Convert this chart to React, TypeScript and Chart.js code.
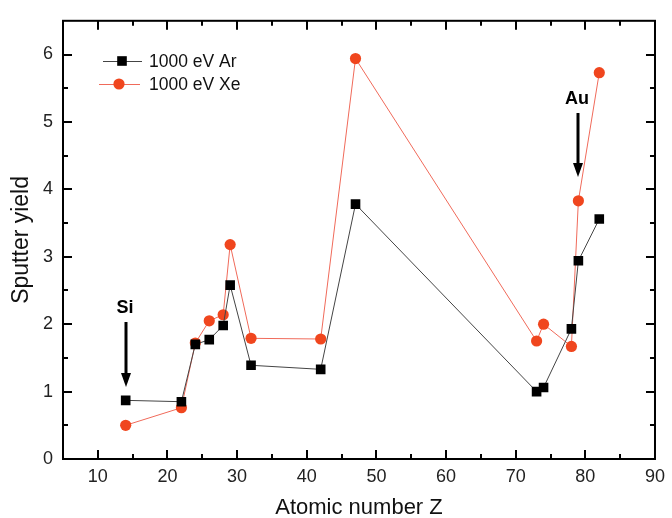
import React, { useEffect, useRef } from "react";
import { Chart, registerables } from "chart.js";

Chart.register(...registerables);

const atomicNumbers = [14, 22, 24, 26, 28, 29, 32, 42, 47, 73, 74, 78, 79, 82];
const arYield = [0.87, 0.85, 1.7, 1.77, 1.98, 2.58, 1.39, 1.33, 3.78, 1.0, 1.06, 1.93, 2.94, 3.56];
const xeYield = [0.5, 0.76, 1.72, 2.05, 2.14, 3.18, 1.79, 1.78, 5.94, 1.75, 2.0, 1.67, 3.83, 5.73];
const seriesLabels = ["1000 eV Ar", "1000 eV Xe"];
const xTitle = "Atomic number Z";
const yTitle = "Sputter yield";
const annotations = [
  { label: "Si", z: 14 },
  { label: "Au", z: 79 },
];

const FONT = "'Liberation Sans', Arial, sans-serif";
const RED = "#f0461e";
const RED_LINE = "#f06a5a";
const BLACK = "#000000";

const framePlugin = {
  id: "framePlugin",
  afterDraw(chart: any) {
    const ctx = chart.ctx;
    const { left, right, top, bottom } = chart.chartArea;
    const xs = chart.scales.x;
    const ys = chart.scales.y;
    ctx.save();
    ctx.strokeStyle = "#000";
    ctx.lineWidth = 2;
    ctx.strokeRect(left, top, right - left, bottom - top);
    const major = 9;
    const minor = 5;
    ctx.lineWidth = 2;
    ctx.beginPath();
    for (let v = xs.min; v <= xs.max + 1e-9; v += 5) {
      if (v === xs.min || v === xs.max) continue;
      const px = Math.round(xs.getPixelForValue(v));
      const len = v % 10 === 0 ? major : minor;
      ctx.moveTo(px, bottom);
      ctx.lineTo(px, bottom - len);
      ctx.moveTo(px, top);
      ctx.lineTo(px, top + len);
    }
    for (let v = ys.min; v <= ys.max + 1e-9; v += 0.5) {
      if (v === ys.min || v === ys.max) continue;
      const py = Math.round(ys.getPixelForValue(v));
      const len = Math.abs(v % 1) < 1e-9 ? major : minor;
      ctx.moveTo(left, py);
      ctx.lineTo(left + len, py);
      ctx.moveTo(right, py);
      ctx.lineTo(right - len, py);
    }
    ctx.stroke();

    // legend
    const ds = chart.data.datasets;
    const legendRows = [
      { y: 61, x1: 103, x2: 142, mx: 122 },
      { y: 84, x1: 99, x2: 140, mx: 119 },
    ];
    ctx.font = `17.5px ${FONT}`;
    ctx.textBaseline = "middle";
    ctx.textAlign = "left";
    ds.forEach((d: any, i: number) => {
      const r = legendRows[i];
      ctx.strokeStyle = d.borderColor;
      ctx.lineWidth = 1;
      ctx.beginPath();
      ctx.moveTo(r.x1, r.y + 0.5);
      ctx.lineTo(r.x2, r.y + 0.5);
      ctx.stroke();
      ctx.fillStyle = d.pointBackgroundColor;
      if (d.pointStyle === "rect") {
        const s = d.pointRadius * Math.SQRT1_2;
        ctx.fillRect(r.mx - s, r.y - s, 2 * s, 2 * s);
      } else {
        ctx.beginPath();
        ctx.arc(r.mx, r.y, d.pointRadius, 0, Math.PI * 2);
        ctx.fill();
      }
      ctx.fillStyle = "#111";
      ctx.fillText(d.label, 149, r.y + 1);
    });

    // annotations
    const annPos = [
      { ty: 308, a1: 322, a2: 387 },
      { ty: 99, a1: 113, a2: 177 },
    ];
    annotations.forEach((a, i) => {
      const p = annPos[i];
      const px = Math.round(xs.getPixelForValue(a.z));
      ctx.fillStyle = "#000";
      ctx.font = `bold 18px ${FONT}`;
      ctx.textAlign = "center";
      ctx.textBaseline = "middle";
      ctx.fillText(a.label, px - 1, p.ty);
      ctx.strokeStyle = "#000";
      ctx.lineWidth = 3;
      ctx.beginPath();
      ctx.moveTo(px, p.a1);
      ctx.lineTo(px, p.a2 - 10);
      ctx.stroke();
      ctx.beginPath();
      ctx.moveTo(px - 5, p.a2 - 14);
      ctx.lineTo(px + 5, p.a2 - 14);
      ctx.lineTo(px, p.a2);
      ctx.closePath();
      ctx.fill();
    });
    ctx.restore();
  },
};

export default function App() {
  const ref = useRef<HTMLCanvasElement | null>(null);
  useEffect(() => {
    if (!ref.current) return;
    const chart = new Chart(ref.current, {
      type: "line",
      data: {
        datasets: [
          {
            label: seriesLabels[0],
            data: atomicNumbers.map((z, i) => ({ x: z, y: arYield[i] })),
            borderColor: "#444444",
            borderWidth: 1,
            pointStyle: "rect",
            pointRadius: 6.8,
            pointBorderWidth: 0,
            pointBackgroundColor: BLACK,
            pointBorderColor: BLACK,
            tension: 0,
          },
          {
            label: seriesLabels[1],
            data: atomicNumbers.map((z, i) => ({ x: z, y: xeYield[i] })),
            borderColor: RED_LINE,
            borderWidth: 1,
            pointStyle: "circle",
            pointRadius: 5.6,
            pointBorderWidth: 0,
            pointBackgroundColor: RED,
            pointBorderColor: RED,
            tension: 0,
          },
        ],
      },
      options: {
        responsive: false,
        animation: false,
        layout: { padding: { top: 14, right: 9, left: 0, bottom: 0 } },
        plugins: { legend: { display: false }, tooltip: { enabled: false } },
        scales: {
          x: {
            type: "linear",
            min: 5,
            max: 90,
            grid: { display: false, drawTicks: false },
            border: { display: false },
            ticks: { stepSize: 10, padding: 7, color: "#222", font: { family: FONT, size: 18 } },
            afterBuildTicks: (s: any) => {
              s.ticks = s.ticks.filter((t: any) => t.value % 10 === 0);
            },
            afterFit: (s: any) => {
              s.height = 59;
            },
            title: {
              display: true,
              text: xTitle,
              color: "#111",
              font: { family: FONT, size: 22, lineHeight: 1 },
              padding: { top: 0, bottom: -1 },
            },
          },
          y: {
            type: "linear",
            min: 0,
            max: 6.5,
            grid: { display: false, drawTicks: false },
            border: { display: false },
            ticks: { stepSize: 1, padding: 10, color: "#222", font: { family: FONT, size: 18 } },
            afterBuildTicks: (s: any) => {
              s.ticks = s.ticks.filter((t: any) => Number.isInteger(t.value));
            },
            afterFit: (s: any) => {
              s.width = 63;
            },
            title: {
              display: true,
              text: yTitle,
              color: "#111",
              font: { family: FONT, size: 23, lineHeight: 1 },
              padding: { top: 10, bottom: 0 },
            },
          },
        },
      },
      plugins: [framePlugin],
    } as any);
    return () => chart.destroy();
  }, []);
  return (
    <div style={{ position: "fixed", left: 0, top: 0, width: 672, height: 518, background: "#fff" }}>
      <canvas ref={ref} width={672} height={518} style={{ width: 672, height: 518 }} />
    </div>
  );
}
